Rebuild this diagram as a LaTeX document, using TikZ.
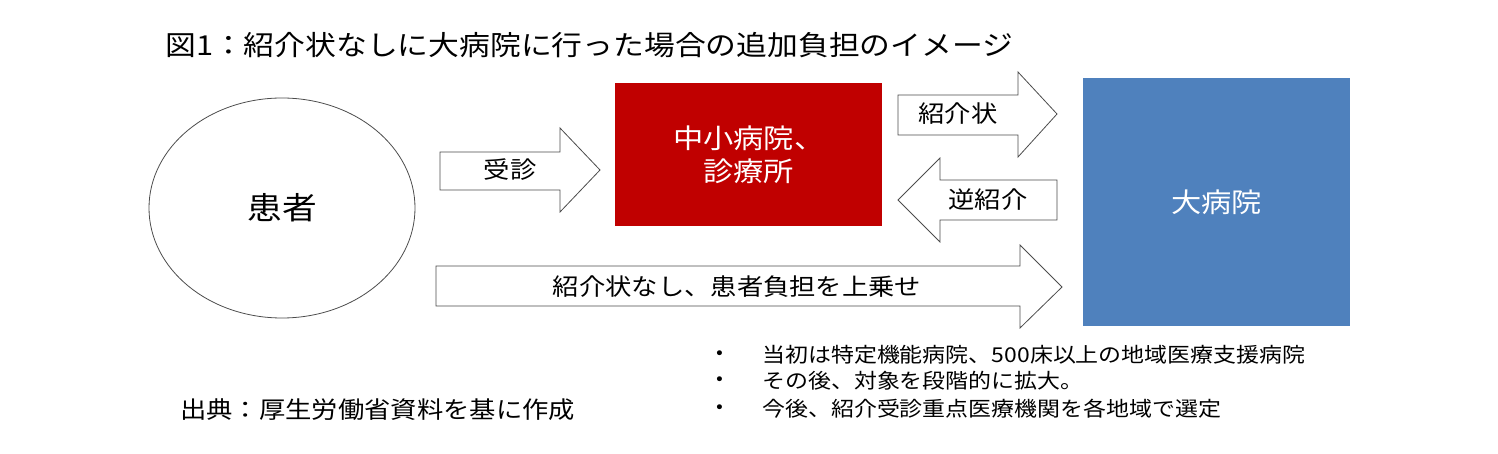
\documentclass[tikz,border=0pt]{standalone}
\usepackage{fontspec}
\setmainfont[FakeStretch=1.12]{Noto Sans CJK JP}
\begin{document}
\begin{tikzpicture}[x=1pt,y=-1pt,
  arr/.style={draw=black!70,line width=0.8pt,fill=white},
  lbl/.style={font=\fontsize{23.5}{28}\selectfont,inner sep=0pt},
  box/.style={draw=none,text=white,font=\fontsize{27}{33}\selectfont,align=center}]
\useasboundingbox (0,0) rectangle (1498,454);
\node[anchor=west,inner sep=0pt,font=\fontsize{27.5}{32}\selectfont] (title) at (165,45) {図1：紹介状なしに大病院に行った場合の追加負担のイメージ};
\draw[black!70,line width=0.8pt] (282,208) ellipse [x radius=133,y radius=110];
\node[font=\fontsize{31}{36}\selectfont,inner sep=0pt] (pat) at (282,208) {患者};
% 受診
\draw[arr] (440,152)--(560,152)--(560,128)--(600,170)--(560,212)--(560,190)--(440,190)--cycle;
\node[lbl] (a1) at (510,170) {受診};
% red box
\node[box,fill={rgb,255:red,192;green,0;blue,0},minimum width=267,minimum height=143,anchor=north west] (small) at (615,83) {中小病院、\\診療所};
% 紹介状
\draw[arr] (898,95)--(1018,95)--(1018,72)--(1057,114)--(1018,157)--(1018,135)--(898,135)--cycle;
\node[lbl] (a2) at (958,114) {紹介状};
% 逆紹介
\draw[arr] (1057,180)--(940,180)--(940,158)--(898,200)--(940,242)--(940,220)--(1057,220)--cycle;
\node[lbl] (a3) at (988,200) {逆紹介};
% blue box
\node[box,fill={rgb,255:red,79;green,129;blue,189},minimum width=267,minimum height=248,anchor=north west] (big) at (1083,78) {大病院};
% long arrow
\draw[arr] (436,266)--(1020,266)--(1020,245)--(1062,287)--(1020,328)--(1020,306)--(436,306)--cycle;
\node[lbl] (a4) at (737,287) {紹介状なし、患者負担を上乗せ};
% bullets
\foreach \y/\t [count=\i] in {355/当初は特定機能病院、500床以上の地域医療支援病院,381/その後、対象を段階的に拡大。,409/今後、紹介受診重点医療機関を各地域で選定}{
  \node[inner sep=0pt,font=\fontsize{18}{22}\selectfont] (b\i) at (720,\y) {•};
  \node[anchor=west,inner sep=0pt,font=\fontsize{20.5}{24}\selectfont] (t\i) at (762,\y) {\t};
}
\node[anchor=west,inner sep=0pt,font=\fontsize{23.5}{28}\selectfont] (src) at (180,410) {出典：厚生労働省資料を基に作成};
\end{tikzpicture}
\end{document}
